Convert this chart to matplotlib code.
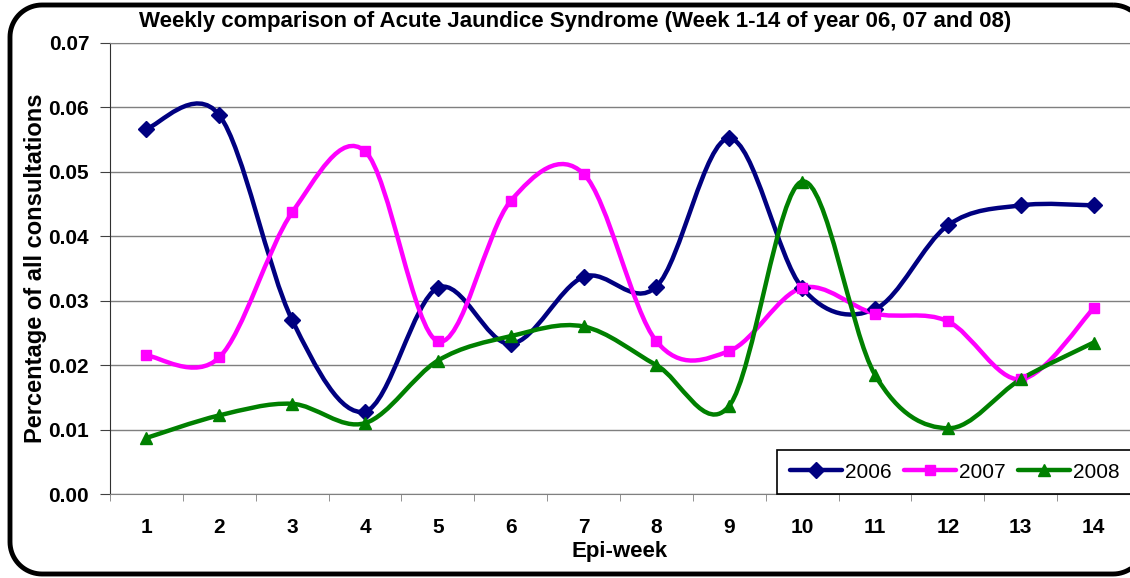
import numpy as np
import matplotlib
matplotlib.use("Agg")
import matplotlib.pyplot as plt
from matplotlib.path import Path
from matplotlib.patches import PathPatch
from matplotlib.lines import Line2D

# datos
semanas = list(range(1, 15))
y2006 = [0.0567, 0.0588, 0.0270, 0.0128, 0.0320, 0.0233, 0.0337, 0.0322, 0.0552, 0.0320, 0.0287, 0.0417, 0.0448, 0.0448]
y2007 = [0.0215, 0.0212, 0.0437, 0.0532, 0.0237, 0.0455, 0.0497, 0.0237, 0.0222, 0.0320, 0.0280, 0.0268, 0.0178, 0.0288]
y2008 = [0.0087, 0.0122, 0.0140, 0.0110, 0.0207, 0.0245, 0.0260, 0.0200, 0.0137, 0.0485, 0.0185, 0.0102, 0.0178, 0.0235]
series = [("2006", y2006, "#000080", "D", 8),
          ("2007", y2007, "#FF00FF", "s", 7),
          ("2008", y2008, "#008000", "^", 8)]
yticks = [0.00, 0.01, 0.02, 0.03, 0.04, 0.05, 0.06, 0.07]

plt.rcParams['font.family'] = ['Liberation Sans', 'DejaVu Sans']


def curva_suave(x, y):
    # bezier tipo Excel (catmull-rom)
    x = np.asarray(x, float)
    y = np.asarray(y, float)
    pts = np.column_stack([x, y])
    n = len(pts)
    verts = [pts[0]]
    codes = [Path.MOVETO]
    for i in range(n - 1):
        p0 = pts[i - 1] if i > 0 else pts[i]
        p1 = pts[i]
        p2 = pts[i + 1]
        p3 = pts[i + 2] if i + 2 < n else pts[i + 1]
        c1 = p1 + (p2 - p0) / 6.0
        c2 = p2 - (p3 - p1) / 6.0
        verts += [c1, c2, p2]
        codes += [Path.CURVE4] * 3
    return Path(verts, codes)


def marco_redondeado(x0, y0, x1, y1, r, W, H):
    # rectangulo con esquinas redondas en pixeles (y hacia abajo) -> fraccion de figura
    pts = []
    esquinas = [(x1 - r, y0 + r, -90, 0), (x1 - r, y1 - r, 0, 90),
                (x0 + r, y1 - r, 90, 180), (x0 + r, y0 + r, 180, 270)]
    for cx, cy, a0, a1 in esquinas:
        for a in np.radians(np.linspace(a0, a1, 20)):
            pts.append((cx + r * np.cos(a), cy + r * np.sin(a)))
    pts.append(pts[0])
    pts = np.array(pts)
    pts[:, 0] = pts[:, 0] / W
    pts[:, 1] = 1 - pts[:, 1] / H
    return Path(pts)


fig = plt.figure(figsize=(11.3, 5.78), dpi=100)
W, H = 1130, 578
ax = fig.add_axes([110 / W, 1 - 494 / H, 1020 / W, 451 / H])

for nombre, vals, color, marcador, ms in series:
    ax.add_patch(PathPatch(curva_suave(semanas, vals), facecolor='none',
                           edgecolor=color, lw=3.2, capstyle='round', joinstyle='round', zorder=3))
    ax.plot(semanas, vals, linestyle='none', marker=marcador, color=color, ms=ms, zorder=4)

ax.set_xlim(0.5, 14.47)
ax.set_ylim(0, 0.07)
ax.set_yticks(yticks)
ax.set_yticklabels([f"{v:.2f}" for v in yticks])
ax.set_xticks(semanas)
ax.set_xticks(np.arange(0.5, 15, 1), minor=True)
ax.tick_params(axis='x', which='major', length=0, pad=17, labelsize=15)
ax.tick_params(axis='x', which='minor', length=5, color='#808080', direction='out')
ax.tick_params(axis='y', length=7, color='#404040', pad=8, labelsize=15)
for lab in ax.get_xticklabels() + ax.get_yticklabels():
    lab.set_fontweight('bold')

ax.grid(axis='y', color='#7f7f7f', lw=1.0)
ax.set_axisbelow(True)
ax.spines['right'].set_visible(False)
ax.spines['top'].set_color('#808080')
ax.spines['bottom'].set_color('#808080')
ax.spines['left'].set_color('#303030')

ax.set_xlabel("Epi-week", fontsize=16, fontweight='bold', labelpad=3)
ax.set_ylabel("Percentage of all consultations", fontsize=17, fontweight='bold', labelpad=1)
fig.text(575 / W, 1 - 22 / H, "Weekly comparison of Acute Jaundice Syndrome (Week 1-14 of year 06, 07 and 08)",
         ha='center', va='center', fontsize=16, fontweight='bold')

handles = [Line2D([], [], color=c, lw=3.2, marker=m, ms=ms, solid_capstyle='round')
           for _, _, c, m, ms in series]
leg = ax.legend(handles, [s[0] for s in series], ncol=3, loc='lower left',
                bbox_to_anchor=((777 - 110) / 1020, 0.0), fontsize=15, frameon=True,
                fancybox=False, edgecolor='black', framealpha=1, handlelength=2.5,
                handletextpad=0.15, columnspacing=0.6, borderpad=0.6, borderaxespad=0,
                numpoints=1)
leg.get_frame().set_linewidth(1.2)
leg.set_zorder(5)

# marco redondeado, el lado derecho queda fuera de la imagen
fig.add_artist(PathPatch(marco_redondeado(10, 5, 1145, 574, 32, W, H), transform=fig.transFigure,
                         facecolor='none', edgecolor='black', lw=3.5))

fig.savefig("out.png", dpi=100)
